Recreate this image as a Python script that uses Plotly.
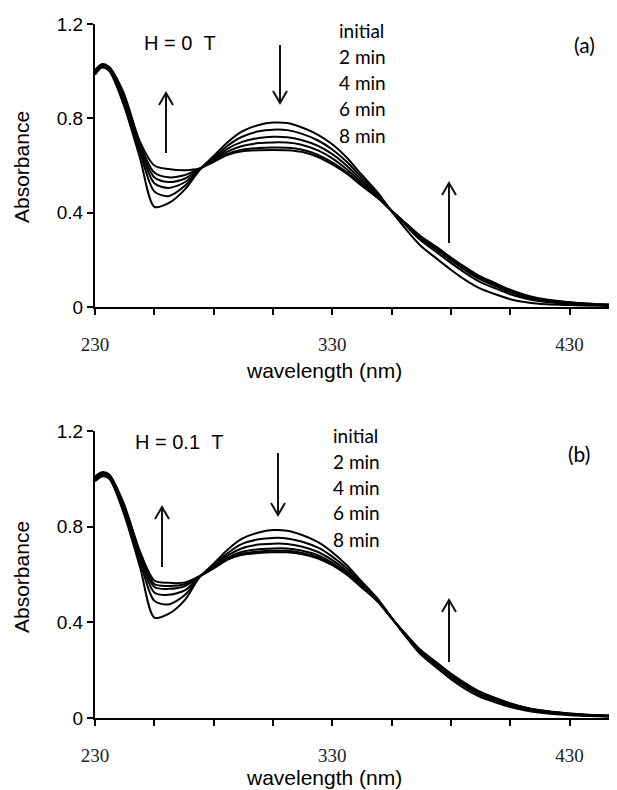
import plotly.graph_objects as go

# page is rendered with an 8px body margin; figure sized to fit the 617x790 window
PAGE_W, PAGE_H = 617, 790
OFF = 8
W, H = PAGE_W - OFF, PAGE_H - OFF

# wavelength grid (nm)
wavelength = [230, 233, 236, 242, 249, 255, 261, 268, 274, 280, 286, 292, 299, 305, 311, 317,
              324, 330, 336, 342, 349, 355, 361, 367, 374, 380, 386, 392, 399, 405, 411, 417,
              430, 442, 450]

# panel (a): H = 0 T
a_initial = [0.985, 1.015, 1.0, 0.86, 0.63, 0.425, 0.44, 0.50, 0.58, 0.64, 0.70, 0.745, 0.772, 0.782, 0.78, 0.762, 0.73, 0.69, 0.635, 0.565, 0.487, 0.405, 0.33, 0.262, 0.205, 0.158, 0.115, 0.08, 0.053, 0.033, 0.021, 0.014, 0.008, 0.005, 0.004]
a_2min = [0.99, 1.02, 1.005, 0.875, 0.655, 0.49, 0.47, 0.515, 0.583, 0.633, 0.685, 0.722, 0.745, 0.752, 0.75, 0.735, 0.706, 0.668, 0.617, 0.553, 0.48, 0.407, 0.345, 0.285, 0.232, 0.187, 0.145, 0.108, 0.078, 0.054, 0.037, 0.025, 0.013, 0.008, 0.006]
a_4min = [0.995, 1.02, 1.01, 0.885, 0.67, 0.525, 0.505, 0.53, 0.584, 0.627, 0.672, 0.70, 0.717, 0.722, 0.72, 0.708, 0.683, 0.648, 0.60, 0.541, 0.474, 0.408, 0.35, 0.293, 0.242, 0.197, 0.156, 0.119, 0.088, 0.062, 0.043, 0.03, 0.016, 0.01, 0.007]
a_6min = [1.0, 1.025, 1.012, 0.893, 0.68, 0.55, 0.53, 0.545, 0.585, 0.622, 0.66, 0.683, 0.695, 0.698, 0.697, 0.688, 0.664, 0.63, 0.585, 0.53, 0.469, 0.408, 0.352, 0.297, 0.247, 0.203, 0.162, 0.125, 0.093, 0.067, 0.047, 0.033, 0.018, 0.011, 0.008]
a_8min = [1.0, 1.025, 1.015, 0.9, 0.69, 0.57, 0.55, 0.56, 0.586, 0.618, 0.65, 0.667, 0.674, 0.676, 0.675, 0.668, 0.645, 0.613, 0.572, 0.521, 0.465, 0.408, 0.354, 0.30, 0.251, 0.207, 0.166, 0.129, 0.097, 0.07, 0.05, 0.035, 0.019, 0.012, 0.008]
a_10min = [1.005, 1.03, 1.018, 0.91, 0.70, 0.60, 0.585, 0.58, 0.587, 0.615, 0.645, 0.66, 0.665, 0.666, 0.665, 0.658, 0.636, 0.605, 0.566, 0.517, 0.463, 0.408, 0.355, 0.302, 0.254, 0.21, 0.169, 0.132, 0.1, 0.073, 0.052, 0.037, 0.02, 0.012, 0.009]

# panel (b): H = 0.1 T
b_initial = [0.99, 1.01, 1.0, 0.86, 0.63, 0.42, 0.435, 0.495, 0.588, 0.645, 0.705, 0.75, 0.776, 0.786, 0.783, 0.766, 0.735, 0.693, 0.64, 0.575, 0.50, 0.42, 0.34, 0.268, 0.21, 0.162, 0.122, 0.09, 0.065, 0.046, 0.032, 0.023, 0.012, 0.007, 0.005]
b_2min = [0.995, 1.015, 1.005, 0.87, 0.655, 0.49, 0.475, 0.515, 0.589, 0.64, 0.69, 0.728, 0.747, 0.753, 0.751, 0.738, 0.712, 0.675, 0.627, 0.566, 0.496, 0.419, 0.343, 0.274, 0.218, 0.171, 0.131, 0.098, 0.072, 0.052, 0.037, 0.027, 0.015, 0.009, 0.006]
b_4min = [1.0, 1.02, 1.01, 0.88, 0.67, 0.525, 0.515, 0.535, 0.59, 0.635, 0.68, 0.71, 0.725, 0.729, 0.728, 0.717, 0.694, 0.66, 0.616, 0.559, 0.493, 0.418, 0.345, 0.278, 0.222, 0.176, 0.136, 0.102, 0.076, 0.055, 0.04, 0.029, 0.016, 0.01, 0.007]
b_6min = [1.0, 1.022, 1.012, 0.888, 0.68, 0.548, 0.54, 0.552, 0.591, 0.63, 0.671, 0.695, 0.706, 0.709, 0.709, 0.70, 0.68, 0.649, 0.608, 0.554, 0.49, 0.418, 0.347, 0.281, 0.226, 0.18, 0.14, 0.106, 0.079, 0.058, 0.042, 0.031, 0.017, 0.011, 0.008]
b_8min = [1.005, 1.025, 1.015, 0.895, 0.69, 0.56, 0.552, 0.56, 0.592, 0.628, 0.666, 0.687, 0.696, 0.699, 0.699, 0.691, 0.672, 0.643, 0.603, 0.551, 0.489, 0.418, 0.349, 0.284, 0.229, 0.183, 0.143, 0.109, 0.081, 0.06, 0.044, 0.032, 0.018, 0.011, 0.008]
b_10min = [1.01, 1.028, 1.018, 0.90, 0.695, 0.575, 0.565, 0.567, 0.593, 0.626, 0.662, 0.682, 0.69, 0.693, 0.693, 0.686, 0.667, 0.639, 0.60, 0.549, 0.488, 0.418, 0.35, 0.286, 0.232, 0.186, 0.146, 0.111, 0.083, 0.062, 0.045, 0.033, 0.019, 0.012, 0.009]

series_names = ["initial", "2 min", "4 min", "6 min", "8 min", "10 min"]
legend_labels = ["initial", "2 min", "4 min", "6 min", "8 min"]
x_tickvals = [230, 255, 280, 305, 330, 355, 380, 405, 430]
x_ticktext = ["230", "", "", "", "330", "", "", "", "430"]
y_tickvals = [0, 0.4, 0.8, 1.2]
y_ticktext = ["0", "0.4", "0.8", "1.2"]

panel_a = [a_initial, a_2min, a_4min, a_6min, a_8min, a_10min]
panel_b = [b_initial, b_2min, b_4min, b_6min, b_8min, b_10min]


def px(x):
    return (x - OFF) / W


def py(y):
    return 1 - (y - OFF) / H


fig = go.Figure()
for name, ys in zip(series_names, panel_a):
    fig.add_trace(go.Scatter(x=wavelength, y=ys, mode="lines", name=name, showlegend=False,
                             line=dict(color="black", width=2, shape="spline", smoothing=0.8),
                             xaxis="x", yaxis="y"))
for name, ys in zip(series_names, panel_b):
    fig.add_trace(go.Scatter(x=wavelength, y=ys, mode="lines", name=name, showlegend=False,
                             line=dict(color="black", width=2, shape="spline", smoothing=0.8),
                             xaxis="x2", yaxis="y2"))

xdom = [px(95), 1.0]
top_dom = [py(307), py(24)]
bot_dom = [py(718), py(431)]

xaxis_common = dict(range=[230, 450], tickmode="array", tickvals=x_tickvals, ticktext=x_ticktext,
                    ticks="outside", ticklen=6, tickwidth=2, tickcolor="black",
                    showline=True, linewidth=2, linecolor="black", showgrid=False, zeroline=False,
                    tickfont=dict(family="Liberation Serif", size=19, color="#222"),
                    ticklabelstandoff=13, domain=xdom, automargin=False)
yaxis_common = dict(range=[0, 1.2], tickmode="array", tickvals=y_tickvals, ticktext=y_ticktext,
                    ticks="outside", ticklen=6, tickwidth=2, tickcolor="black",
                    showline=True, linewidth=2, linecolor="black", showgrid=False, zeroline=False,
                    tickfont=dict(family="Liberation Sans", size=19, color="black"),
                    automargin=False)

fig.update_layout(
    width=W, height=H,
    margin=dict(l=0, r=0, t=0, b=0, autoexpand=False),
    paper_bgcolor="white", plot_bgcolor="white",
    xaxis=dict(**xaxis_common, anchor="y"),
    xaxis2=dict(**xaxis_common, anchor="y2"),
    yaxis=dict(**yaxis_common, domain=top_dom, anchor="x"),
    yaxis2=dict(**yaxis_common, domain=bot_dom, anchor="x2"),
)

annotations = []
sans = "Liberation Sans"
cal = "Lato"


def txt(x, y, text, size, family, xanchor="center", angle=0):
    annotations.append(dict(x=px(x), y=py(y), xref="paper", yref="paper", text=text,
                            showarrow=False, xanchor=xanchor, yanchor="middle",
                            font=dict(family=family, size=size, color="black"), textangle=angle))


# panel (a)
txt(21, 167, "Absorbance", 21, sans, angle=-90)
txt(324, 370, "wavelength (nm)", 21, sans)
txt(142, 43, "H = 0&nbsp;&nbsp;T", 20, sans, xanchor="left")
txt(584, 45, "(a)", 21, cal)
for i, lab in enumerate(legend_labels):
    txt(337, 30 + i * 26.3, lab, 19, cal, xanchor="left")

# panel (b)
txt(21, 577, "Absorbance", 21, sans, angle=-90)
txt(324, 777, "wavelength (nm)", 21, sans)
txt(133, 442, "H = 0.1&nbsp;&nbsp;T", 20, sans, xanchor="left")
txt(579, 453, "(b)", 21, cal)
for i, lab in enumerate(legend_labels):
    txt(331, 435 + i * 26, lab, 19, cal, xanchor="left")

fig.update_layout(annotations=annotations)

# arrows (x, tail_y, tip_y) in page pixels
arrows = [(166, 153, 93), (280, 45, 103), (449, 243, 183),
          (162, 567, 507), (278, 453, 515), (449, 662, 600)]
shapes = []
for x, yt, ytip in arrows:
    d = 12 if ytip < yt else -12
    path = (f"M {px(x)} {py(yt)} L {px(x)} {py(ytip)} "
            f"M {px(x - 7)} {py(ytip + d)} L {px(x)} {py(ytip)} L {px(x + 7)} {py(ytip + d)}")
    shapes.append(dict(type="path", xref="paper", yref="paper", path=path,
                       line=dict(color="#111", width=2)))
fig.update_layout(shapes=shapes)

fig.write_html("out.html")
